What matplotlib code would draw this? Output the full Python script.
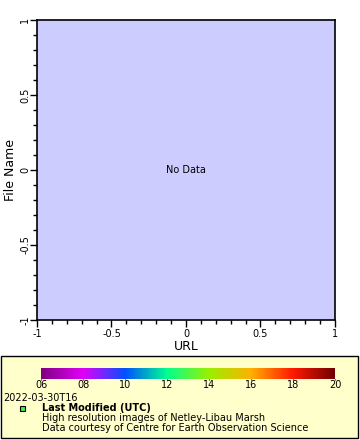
import numpy as np
import matplotlib
matplotlib.use("Agg")
import matplotlib.pyplot as plt
from matplotlib.colors import LinearSegmentedColormap, Normalize
from matplotlib.patches import Rectangle
from matplotlib.cm import ScalarMappable

# -------------------------------------------------------------
# Dados (nenhum dado disponível no gráfico)
url_values = []
file_name_values = []

x_ticks = [-1, -0.5, 0, 0.5, 1]
x_tick_labels = ["-1", "-0.5", "0", "0.5", "1"]
y_ticks = [-1, -0.5, 0, 0.5, 1]
y_tick_labels = ["-1", "-0.5", "0", "0.5", "1"]

cbar_min, cbar_max = 6, 20
cbar_ticks = [6, 8, 10, 12, 14, 16, 18, 20]
cbar_tick_labels = ["06", "08", "10", "12", "14", "16", "18", "20"]

time_label = "2022-03-30T16"
legend_title = "Last Modified (UTC)"
legend_lines = ["High resolution images of Netley-Libau Marsh",
                "Data courtesy of Centre for Earth Observation Science"]

# -------------------------------------------------------------
# Estilos
cmap = LinearSegmentedColormap.from_list("rainbow_ceos", [
    "#800080", "#e000f8", "#0050ff", "#00ff90", "#98f000",
    "#ffb000", "#ff1800", "#700000"])

fig = plt.figure(figsize=(3.6, 4.4), dpi=100)

# -------------------------------------------------------------
# Painel da legenda (atrás de tudo)
panel = Rectangle((1 / 360, 1 - 438 / 440), 357 / 360, 82 / 440,
                  transform=fig.transFigure, facecolor="#ffffcc",
                  edgecolor="black", linewidth=1, zorder=-10)
fig.add_artist(panel)

# -------------------------------------------------------------
# Eixo principal
ax = fig.add_axes([37 / 360, 1 - 320 / 440, 298 / 360, 300 / 440])
ax.set_facecolor("#ccccff")
ax.plot(url_values, file_name_values)
ax.set_xlim(-1, 1)
ax.set_ylim(-1, 1)
ax.set_xticks(x_ticks)
ax.set_xticklabels(x_tick_labels, fontsize=7)
ax.set_yticks(y_ticks)
ax.set_yticklabels(y_tick_labels, fontsize=7, rotation=90, va="center")
ax.set_xticks(np.arange(-1, 1.01, 0.1), minor=True)
ax.set_yticks(np.arange(-1, 1.01, 0.1), minor=True)
ax.tick_params(which="major", length=5, width=1, pad=1.5)
ax.tick_params(axis="y", which="major", pad=0)
ax.tick_params(which="minor", length=3, width=1)
for s in ax.spines.values():
    s.set_linewidth(1.2)
ax.set_xlabel("URL", fontsize=9, labelpad=1)
ax.set_ylabel("File Name", fontsize=9, labelpad=2)
ax.text(0, 0, "No Data", ha="center", va="center", fontsize=7)

# -------------------------------------------------------------
# Barra de cores
cax = fig.add_axes([41 / 360, 1 - 379 / 440, 294 / 360, 11 / 440])
cb = fig.colorbar(ScalarMappable(norm=Normalize(cbar_min, cbar_max), cmap=cmap),
                  cax=cax, orientation="horizontal")
cb.set_ticks(cbar_ticks)
cb.set_ticklabels(cbar_tick_labels)
cb.outline.set_visible(False)
cax.tick_params(labelsize=7, length=1, pad=0)

fig.text(3 / 360, 1 - 397.5 / 440, time_label, fontsize=7, va="center")
fig.add_artist(Rectangle((20 / 360, 1 - 410.5 / 440), 5 / 360, 5 / 440,
                         transform=fig.transFigure, facecolor="#44ee44",
                         edgecolor="black", linewidth=0.8))
fig.text(42 / 360, 1 - 408 / 440, legend_title, fontsize=7,
         fontweight="bold", va="center")
fig.text(42 / 360, 1 - 418 / 440, legend_lines[0], fontsize=7, va="center")
fig.text(42 / 360, 1 - 428 / 440, legend_lines[1], fontsize=7, va="center")

fig.savefig("out.png", dpi=100)
plt.close()
